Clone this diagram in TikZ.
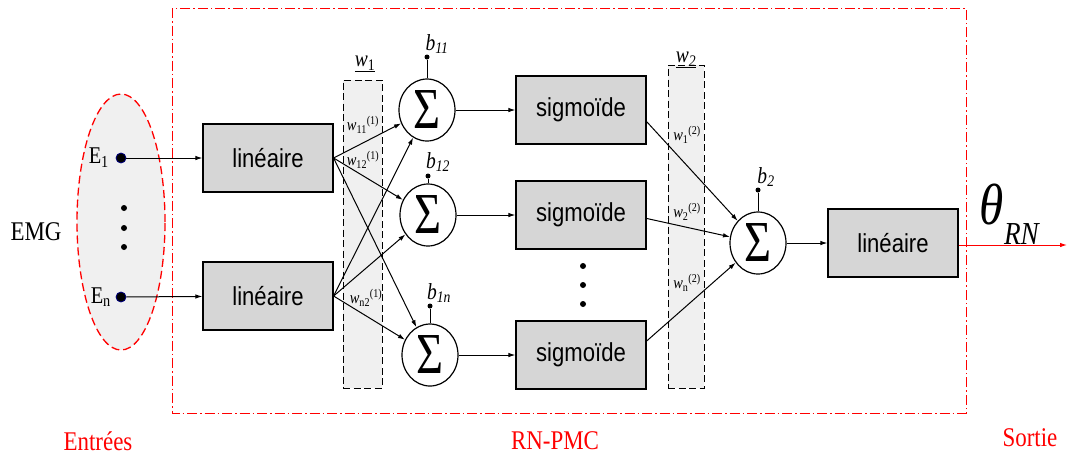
\documentclass[tikz,border=0pt]{standalone}
\usepackage{fontspec}
\setmainfont{Liberation Serif}
\setsansfont{Liberation Sans}
\usetikzlibrary{arrows.meta,shapes.geometric}
\newcommand\hs[1]{\scalebox{0.85}[1]{#1}}
\newcommand\sumsym{\scalebox{0.8}[1]{\fontsize{58}{58}\selectfont Σ}}
\begin{document}
\begin{tikzpicture}[x=1pt,y=-1pt,
  arr/.style={-{Latex[length=7pt,width=4.5pt]}, line width=1pt},
  blk/.style={draw, line width=1.2pt, fill=black!16, minimum width=130pt, minimum height=68pt, inner sep=0pt, font=\sffamily\fontsize{26}{26}\selectfont},
  sumnode/.style={draw, ellipse, line width=1.2pt, fill=white, minimum width=56pt, minimum height=62pt, inner sep=0pt},
  wbox/.style={draw, line width=0.9pt, dash pattern=on 7pt off 3.5pt, fill=black!6, inner sep=0pt},
  bias/.style={circle, fill=black, inner sep=0pt, minimum size=5pt},
  blab/.style={font=\fontsize{23}{23}\selectfont\itshape, inner sep=0pt},
  wlab/.style={font=\fontsize{17}{17}\selectfont, inner sep=0pt},
  redlab/.style={text=red, font=\fontsize{27}{27}\selectfont, inner sep=0pt},
  edot/.style={circle, fill=black, draw=blue!50!black, line width=0.8pt, minimum size=10pt, inner sep=0pt},
  sdot/.style={circle, fill=black, minimum size=6pt, inner sep=0pt}
]
\useasboundingbox (0,0) rectangle (1067,459);
\fill[white] (0,0) rectangle (1067,459);

% outer frame
\draw[red, line width=1pt, dash pattern=on 10pt off 3pt on 1.5pt off 3pt] (172,8) rectangle (966,413);

% inputs
\node[ellipse, draw=red, line width=1.3pt, dash pattern=on 8pt off 4pt, fill=black!6, minimum width=88pt, minimum height=256pt] (ell) at (121,222) {};
\node[edot] (e1) at (121,158) {};
\node[edot] (en) at (121,297) {};
\node[font=\fontsize{24}{24}\selectfont, anchor=east, inner sep=0pt] (e1l) at (109,158) {\hs{E\textsubscript{1}}};
\node[font=\fontsize{24}{24}\selectfont, anchor=east, inner sep=0pt] (enl) at (111,297) {\hs{E\textsubscript{n}}};
\node[sdot] (d1) at (124,208) {};
\node[sdot] (d2) at (124,228) {};
\node[sdot] (d3) at (124,247) {};
\node[font=\fontsize{27}{27}\selectfont, inner sep=0pt] (emg) at (36,232) {\hs{EMG}};

% weight boxes
\node[wbox, minimum width=39pt, minimum height=308pt] (w1) at (362.5,234) {};
\node[wbox, minimum width=36pt, minimum height=323pt] (w2) at (686,226.5) {};
\node[blab, font=\fontsize{23}{23}\selectfont] (w1l) at (365,64) {\hs{\underline{\textit{w}\textsubscript{1}}}};
\node[blab] (w2l) at (686,60) {\hs{\underline{w\textsubscript{2}}}};

% linear blocks
\node[blk] (lin1) at (268,158) {\hs{linéaire}};
\node[blk] (lin2) at (268,296) {\hs{linéaire}};
\node[blk] (lin3) at (893,243) {\hs{linéaire}};

% sums
\node[sumnode] (s1) at (427,110) {\sumsym};
\node[sumnode] (s2) at (428,215) {\sumsym};
\node[sumnode] (s3) at (430,355) {\sumsym};
\node[sumnode] (s4) at (758,243) {\sumsym};

% sigmoids
\node[blk] (sig1) at (581,110) {\hs{sigmoïde}};
\node[blk] (sig2) at (581,215) {\hs{sigmoïde}};
\node[blk] (sig3) at (581,355) {\hs{sigmoïde}};
\node[sdot] (v1) at (583,266) {};
\node[sdot] (v2) at (583,285) {};
\node[sdot] (v3) at (583,304) {};

% biases
\node[bias] (b1d) at (427,57) {};
\node[bias] (b2d) at (428,176) {};
\node[bias] (b3d) at (430,306) {};
\node[bias] (b4d) at (758,190) {};
\draw[line width=1pt] (b1d) -- (s1);
\draw[line width=1pt] (b2d) -- (s2);
\draw[line width=1pt] (b3d) -- (s3);
\draw[line width=1pt] (b4d) -- (s4);
\node[blab] (b1l) at (437,44) {\hs{b\textsubscript{11}}};
\node[blab] (b2l) at (438,162) {\hs{b\textsubscript{12}}};
\node[blab] (b3l) at (439,293) {\hs{b\textsubscript{1n}}};
\node[blab] (b4l) at (766,177) {\hs{b\textsubscript{2}}};

% input arrows
\draw[arr] (e1) -- (lin1);
\draw[arr] (en) -- (lin2);

% layer 1 connections
\draw[arr] (lin1.east) -- (s1);
\draw[arr] (lin1.east) -- (s2);
\draw[arr] (lin1.east) -- (s3);
\draw[arr] (lin2.east) -- (s1);
\draw[arr] (lin2.east) -- (s2);
\draw[arr] (lin2.east) -- (s3);
\node[wlab] (l11) at (363,125) {\hs{\textit{w}\textsubscript{11}\textsuperscript{(1)}}};
\node[wlab] (l12) at (363,160) {\hs{\textit{w}\textsubscript{12}\textsuperscript{(1)}}};
\node[wlab] (ln2) at (366,298) {\hs{\textit{w}\textsubscript{n2}\textsuperscript{(1)}}};

% sum to sigmoid
\draw[arr] (s1) -- (sig1);
\draw[arr] (s2) -- (sig2);
\draw[arr] (s3) -- (sig3);

% layer 2 connections
\draw[arr] (sig1.-10) -- (s4);
\draw[arr] (sig2.-3) -- (s4);
\draw[arr] (sig3.12) -- (s4);
\node[wlab] (m1) at (687,135) {\hs{\textit{w}\textsubscript{1}\textsuperscript{(2)}}};
\node[wlab] (m2) at (687,212) {\hs{\textit{w}\textsubscript{2}\textsuperscript{(2)}}};
\node[wlab] (mn) at (687,283) {\hs{\textit{w}\textsubscript{n}\textsuperscript{(2)}}};

% output
\draw[arr] (s4) -- (lin3);
\coordinate (out) at (1067,245);
\draw[arr, red] (lin3.east |- out) -- (out);
\node[inner sep=0pt] (theta) at (1010,214) {\hs{\fontsize{58}{58}\selectfont\textit{θ}\raisebox{-20pt}{\fontsize{32}{32}\selectfont\textit{RN}}}};

% bottom labels
\node[redlab] (ent) at (98,441) {\hs{Entrées}};
\node[redlab] (rn) at (555,441) {\hs{RN-PMC}};
\node[redlab] (sor) at (1030,438) {\hs{Sortie}};
\end{tikzpicture}
\end{document}
